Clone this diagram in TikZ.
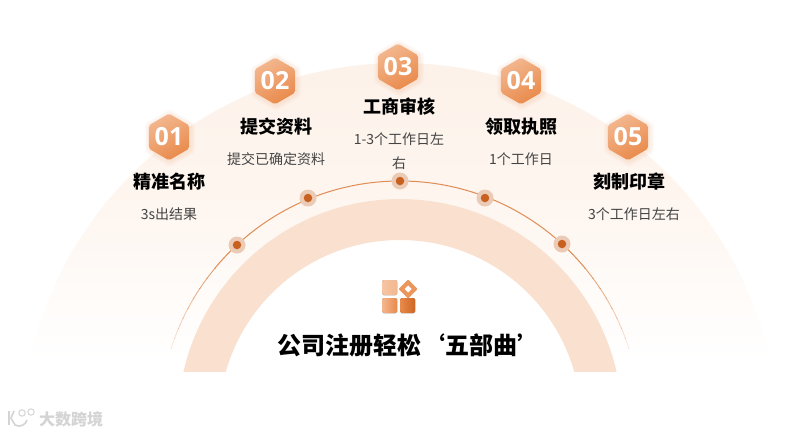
\documentclass[tikz,border=0pt]{standalone}
\usepackage{fontspec}
\setmainfont{Noto Sans CJK SC}
\newfontfamily\numfont{Open Sans}
\usetikzlibrary{shapes.geometric}
\definecolor{bgtop}{HTML}{FDF1E8}
\definecolor{bandc}{HTML}{F9E0CF}
\definecolor{linec}{HTML}{E08C55}
\definecolor{halo}{HTML}{EBCBB5}
\definecolor{core}{HTML}{C8601F}
\definecolor{hexa}{HTML}{F3B78F}
\definecolor{hexb}{HTML}{E98A4B}
\definecolor{subc}{HTML}{444444}
\definecolor{wm}{HTML}{D4D4D4}
\tikzset{
  hexbox/.style={regular polygon,regular polygon sides=6,regular polygon rotate=30,minimum size=46pt,inner sep=0pt,rounded corners=2pt,
    left color=hexa,right color=hexb,shading angle=30,text=white,font=\numfont\bfseries\fontsize{25}{25}\selectfont},
  hexglow/.style={regular polygon,regular polygon sides=6,regular polygon rotate=30,inner sep=0pt,fill=hexb,fill opacity=0.04,rounded corners=3pt},
  titletext/.style={text=black,font=\bfseries\fontsize{18}{20}\selectfont,inner sep=0pt},
  subtext/.style={text=subc,font=\fontsize{14}{16}\selectfont,inner sep=0pt},
  haloc/.style={circle,fill=halo,minimum size=17pt,inner sep=0pt},
  corec/.style={circle,fill=core,minimum size=8.5pt,inner sep=0pt},
  tile/.style={rounded corners=1.5pt},
}
\begin{document}
\begin{tikzpicture}[x=1pt,y=-1pt]
\useasboundingbox (0,0) rectangle (786,434);
\fill[white] (0,0) rectangle (786,434);
% big faded arch
\shade[top color=bgtop,bottom color=white,middle color=bgtop!70!white]
  (30,360) arc[start angle=167.5,end angle=12.5,radius=379pt] -- cycle;
% thick band
\begin{scope}
  \clip (0,0) rectangle (786,371);
  \fill[white] (400,421) circle (222pt);
  \draw[bandc,line width=41pt] (400,421) circle (201.5pt);
\end{scope}
% thin arc
\begin{scope}
  \clip (0,0) rectangle (786,268);
  \draw[linec,line width=1pt] (400,421) circle (240pt);
\end{scope}
\foreach \y/\o in {268/90,278/80,288/70,298/60,308/50,318/40,328/30,338/20}{
  \begin{scope}
    \clip (0,\y) rectangle (786,\y+10);
    \draw[linec,line width=0.8pt,opacity=0.\o] (400,421) circle (240pt);
  \end{scope}
}
% dots
\foreach \n/\x/\y in {a/237/245,b/308/198,c/400/181,d/485/198,e/562/244}{
  \node[haloc] (h\n) at (\x,\y) {};
  \node[corec] (k\n) at (\x,\y) {};
}
% hexagons
\foreach \n/\x/\y/\t in {1/169/137/01,2/275/81/02,3/398/67/03,4/521/81/04,5/628/137/05}{
  \foreach \s in {58,55,52,49}{\node[hexglow,minimum size=\s pt] at (\x+1,\y+1) {};}
  \node[hexbox] (hex\n) at (\x,\y) {\t};
}
% titles
\node[titletext] (t1) at (169,182) {精准名称};
\node[titletext] (t2) at (276,127) {提交资料};
\node[titletext] (t3) at (399,107) {工商审核};
\node[titletext] (t4) at (521,127) {领取执照};
\node[titletext] (t5) at (629,182) {刻制印章};
% subtitles
\node[subtext] (s1) at (169,214) {3s出结果};
\node[subtext] (s2) at (276,159) {提交已确定资料};
\node[subtext] (s3a) at (399,139) {1-3个工作日左};
\node[subtext] (s3b) at (399,163) {右};
\node[subtext] (s4) at (521,159) {1个工作日};
\node[subtext] (s5) at (634,214) {3个工作日左右};
% icon
\fill[tile,left color=hexa!80!white,right color=hexa] (382,280) rectangle (397,295);
\fill[tile,left color=hexa,right color=hexb] (382,298) rectangle (397,313);
\fill[tile,left color=hexb,right color=core!85!hexb] (400,298) rectangle (415,313);
\fill[hexb!90!white,rounded corners=1pt] (408,279.5) -- (417.5,289) -- (408,298.5) -- (398.5,289) -- cycle;
\fill[white] (408,285.5) -- (411.5,289) -- (408,292.5) -- (404.5,289) -- cycle;
% main title
\node[text=black,font=\bfseries\fontsize{24}{26}\selectfont,inner sep=0pt] (main) at (409,345) {公司注册轻松‘五部曲’};
% watermark
\node[text=wm,font=\bfseries\fontsize{16}{17}\selectfont,inner sep=0pt] (mark) at (71,419) {大数跨境};
\draw[wm,line width=1.6pt] (9,411) -- (9,425);
\draw[wm,line width=1.6pt] (14,411) -- (11,418) -- (15,425) .. controls (21,428) and (26,424) .. (27,420);
\draw[wm,line width=1pt] (22,413) circle (3.2pt);
\draw[wm,line width=1pt] (31,412) circle (3.2pt);
\end{tikzpicture}
\end{document}
